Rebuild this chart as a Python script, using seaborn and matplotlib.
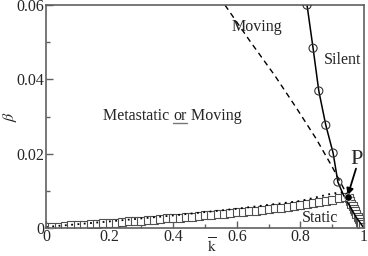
import matplotlib
matplotlib.use("Agg")
import matplotlib.pyplot as plt
from matplotlib.lines import Line2D
import numpy as np
import seaborn as sns

# ---------------- data ----------------
# solid line with open circles (upper boundary of "Silent")
solid_k = [0.821, 0.840, 0.858, 0.880, 0.903, 0.918, 0.935, 0.955, 0.975, 1.0]
solid_b = [0.0600, 0.0484, 0.0369, 0.0277, 0.0202, 0.0124, 0.0090, 0.0060, 0.0030, 0.0]
circle_k = [0.821, 0.840, 0.858, 0.880, 0.903, 0.918]
circle_b = [0.0600, 0.0484, 0.0369, 0.0277, 0.0202, 0.0124]

# dashed line
dash_k = [0.563, 0.640, 0.720, 0.790, 0.850, 0.900, 0.950]
dash_b = [0.0600, 0.0505, 0.0410, 0.0320, 0.0240, 0.0165, 0.0085]

# dotted line
dot_k = [0.0, 0.2, 0.4, 0.6, 0.8, 0.9, 0.95]
dot_b = [0.0003, 0.0018, 0.0034, 0.0052, 0.0073, 0.0093, 0.0098]

# squares: lower branch
sq_k = [0.00, 0.02, 0.04, 0.06, 0.08, 0.10, 0.12, 0.14, 0.16, 0.18,
        0.20, 0.22, 0.24, 0.26, 0.28, 0.30, 0.32, 0.34, 0.36, 0.38,
        0.40, 0.42, 0.44, 0.46, 0.48, 0.50, 0.52, 0.54, 0.56, 0.58,
        0.60, 0.62, 0.64, 0.66, 0.68, 0.70, 0.72, 0.74, 0.76, 0.78,
        0.80, 0.82, 0.84, 0.86, 0.88, 0.90, 0.92, 0.94]
sq_b = [0.0002, 0.0003, 0.0004, 0.0005, 0.0007, 0.0008, 0.0009, 0.0010, 0.0012, 0.0013,
        0.0014, 0.0015, 0.0017, 0.0018, 0.0019, 0.0020, 0.0022, 0.0023, 0.0024, 0.0026,
        0.0027, 0.0028, 0.0030, 0.0031, 0.0033, 0.0034, 0.0035, 0.0037, 0.0039, 0.0040,
        0.0042, 0.0043, 0.0045, 0.0047, 0.0049, 0.0051, 0.0053, 0.0055, 0.0057, 0.0059,
        0.0062, 0.0064, 0.0067, 0.0070, 0.0073, 0.0076, 0.0080, 0.0084]
# squares: steep branch from P to (1, 0)
sq2_k = [0.952, 0.956, 0.960, 0.964, 0.968, 0.972, 0.976, 0.980, 0.984, 0.988, 0.992, 0.996]
sq2_b = [0.0080, 0.0073, 0.0066, 0.0059, 0.0052, 0.0045, 0.0038, 0.0031, 0.0024, 0.0017, 0.0010, 0.0004]

p_k, p_b = 0.951, 0.0085

x_ticks = [0, 0.2, 0.4, 0.6, 0.8, 1]
x_ticklabels = ["0", "0.2", "0.4", "0.6", "0.8", "1"]
y_ticks = [0, 0.02, 0.04, 0.06]
y_ticklabels = ["0", "0.02", "0.04", "0.06"]

# ---------------- style ----------------
sns.set_style("ticks")
plt.rcParams['font.family'] = ['Liberation Serif', 'DejaVu Serif']
plt.rcParams['mathtext.fontset'] = 'stix'
plt.rcParams['font.size'] = 11.5

fig = plt.figure(figsize=(3.68, 2.56), dpi=100)
ax = fig.add_axes([0.125, 0.109, 0.864, 0.871])

frame = '#606060'
sq_edge = '#505050'

# squares
sns.lineplot(x=sq_k, y=sq_b, ax=ax, linestyle='none', marker='s', markersize=5.5,
             markerfacecolor='white', markeredgecolor=sq_edge, markeredgewidth=0.8,
             sort=False, estimator=None)
sns.lineplot(x=sq2_k, y=sq2_b, ax=ax, linestyle='none', marker='s', markersize=5.5,
             markerfacecolor='white', markeredgecolor=sq_edge, markeredgewidth=0.8,
             sort=False, estimator=None)
# dotted
sns.lineplot(x=dot_k, y=dot_b, ax=ax, color='black', linestyle=(0, (1, 2.5)), linewidth=1.3,
             sort=False, estimator=None)
# dashed
sns.lineplot(x=dash_k, y=dash_b, ax=ax, color='black', linestyle=(0, (4, 3)), linewidth=1.0,
             sort=False, estimator=None)
# solid with circles
sns.lineplot(x=solid_k, y=solid_b, ax=ax, color='black', linewidth=1.1,
             sort=False, estimator=None)
sns.scatterplot(x=circle_k, y=circle_b, ax=ax, marker='o', s=34,
                facecolor='none', edgecolor='#333333', linewidth=0.8, zorder=4)
# point P
sns.scatterplot(x=[p_k], y=[p_b], ax=ax, marker='o', s=28, color='black', zorder=5)

ax.set_xlim(0, 1)
ax.set_ylim(0, 0.06)
ax.set_xticks(x_ticks)
ax.set_xticklabels(x_ticklabels)
ax.set_yticks(y_ticks)
ax.set_yticklabels(y_ticklabels)
ax.set_xticks([0.1, 0.3, 0.5, 0.7, 0.9], minor=True)
ax.set_yticks([0.01, 0.03, 0.05], minor=True)
ax.tick_params(which='major', direction='in', length=5, width=1, color=frame, pad=1)
ax.tick_params(which='minor', direction='in', length=3, width=1, color=frame)
for s in ax.spines.values():
    s.set_color(frame)
    s.set_linewidth(1.2)

ax.set_xlabel(r'$\overline{\mathrm{k}}$')
ax.set_ylabel(r'$\overline{\beta}$')
ax.xaxis.set_label_coords(0.522, -0.045)
ax.yaxis.set_label_coords(-0.078, 0.5)

# region labels
t1 = ax.text(0.18, 0.0302, "Metastatic ", ha='left', va='center')
t2 = ax.annotate("or", xy=(1, 0), xycoords=t1, va='bottom', ha='left')
t3 = ax.annotate(" Moving", xy=(1, 0), xycoords=t2, va='bottom', ha='left')
ax.text(0.664, 0.054, "Moving", ha='center', va='center')
ax.text(0.934, 0.0452, "Silent", ha='center', va='center')
ax.text(0.862, 0.0027, "Static", ha='center', va='center')
ax.text(0.978, 0.0185, "P", ha='center', va='center', fontsize=16)
ax.annotate("", xy=(p_k - 0.002, p_b + 0.0003), xytext=(0.975, 0.016),
            arrowprops=dict(arrowstyle='-|>', color='black', lw=1.3,
                            mutation_scale=10, shrinkA=0, shrinkB=0))

# underline "or"
fig.canvas.draw()
bb = t2.get_window_extent()
W, H = fig.get_size_inches() * fig.dpi
yline = (bb.y0 + 1) / H
fig.add_artist(Line2D([bb.x0 / W, bb.x1 / W], [yline, yline], color='#777777', lw=1.0))

fig.savefig("out.png", dpi=100)
